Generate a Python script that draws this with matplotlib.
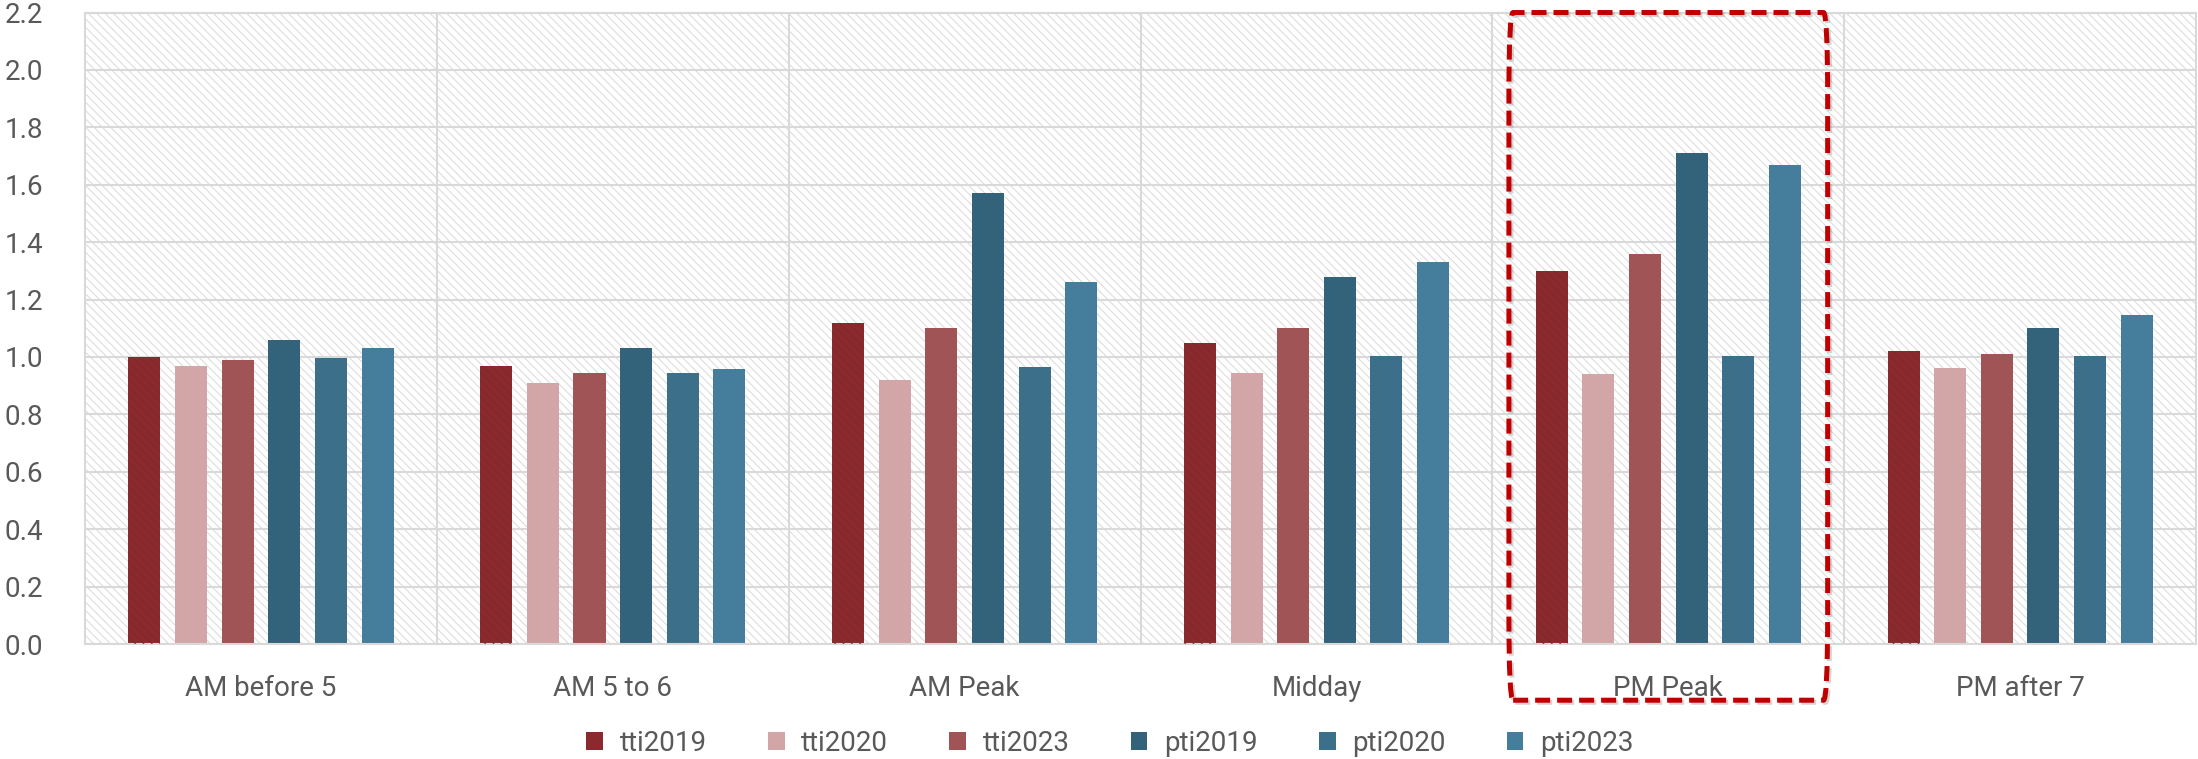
import numpy as np
import matplotlib
matplotlib.use('Agg')
import matplotlib.pyplot as plt
import matplotlib.patheffects as pe
from matplotlib.patches import Rectangle, FancyBboxPatch, Patch
from matplotlib.transforms import blended_transform_factory

# data
categories = ['AM before 5', 'AM 5 to 6', 'AM Peak', 'Midday', 'PM Peak', 'PM after 7']
series_names = ['tti2019', 'tti2020', 'tti2023', 'pti2019', 'pti2020', 'pti2023']
tti2019 = [1.00, 0.97, 1.12, 1.05, 1.30, 1.02]
tti2020 = [0.97, 0.91, 0.92, 0.945, 0.94, 0.96]
tti2023 = [0.99, 0.945, 1.10, 1.10, 1.36, 1.01]
pti2019 = [1.06, 1.03, 1.57, 1.28, 1.71, 1.10]
pti2020 = [0.995, 0.943, 0.965, 1.003, 1.003, 1.003]
pti2023 = [1.03, 0.957, 1.26, 1.33, 1.67, 1.145]
highlight = 'PM Peak'

colors = ['#8b2a2e', '#d2a5a6', '#a05455', '#33637b', '#3b6f8a', '#457e9c']
series = [tti2019, tti2020, tti2023, pti2019, pti2020, pti2023]

plt.rcParams['font.family'] = ['Roboto', 'DejaVu Sans']
plt.rcParams['hatch.linewidth'] = 0.7
text_color = '#595959'
grid_color = '#d9d9d9'

fig = plt.figure(figsize=(21.98, 7.59), dpi=100)
ax = fig.add_axes([0.0387, 0.1515, 0.9604, 0.832])

# hatched background
ax.add_patch(Rectangle((0, 0), 1, 1, transform=ax.transAxes, facecolor='white',
                       edgecolor='#d9d9d9', hatch='\\\\\\\\', lw=0, zorder=0))

x = np.arange(len(categories))
step = 0.1325
width = 0.091
for i, (vals, c) in enumerate(zip(series, colors)):
    pos = x + (i - 2.5) * step
    ax.bar(pos, vals, width, color=c, zorder=2, label=series_names[i])
    if i == 0:
        # faint texture on the first series
        ax.bar(pos, vals, width, facecolor='none', edgecolor='#832729',
               hatch='\\\\\\\\', lw=0, zorder=3)

ax.set_xlim(-0.5, len(categories) - 0.5)
ax.set_ylim(0, 2.2)
ax.set_yticks(np.arange(0, 2.21, 0.2))
ax.set_yticklabels([f'{v:.1f}' for v in np.arange(0, 2.21, 0.2)])
ax.set_xticks(x)
ax.set_xticklabels(categories)
ax.set_xticks(np.arange(0.5, len(categories) - 0.5, 1), minor=True)
ax.tick_params(axis='both', which='both', length=0, labelsize=20, colors=text_color)
ax.tick_params(axis='y', pad=30)
ax.tick_params(axis='x', pad=22)
ax.grid(axis='y', color=grid_color, lw=1.5)
ax.grid(axis='x', which='minor', color=grid_color, lw=1.5)
ax.set_axisbelow(True)
for s in ax.spines.values():
    s.set_color(grid_color)
    s.set_linewidth(1.5)

# dashed highlight box around PM Peak
k = categories.index(highlight)
trans = blended_transform_factory(ax.transData, ax.transAxes)
box = FancyBboxPatch((k - 0.453, -0.089), 0.906, 1.089,
                     boxstyle='round,pad=0,rounding_size=0.012',
                     transform=trans, facecolor='none', edgecolor='#c00000',
                     lw=3.6, linestyle=(0, (3.0, 1.4)), clip_on=False, zorder=5,
                     mutation_aspect=1 / 0.09)
box.set_path_effects([pe.SimpleLineShadow(offset=(1.5, -1.5), shadow_color='#888888', alpha=0.35),
                      pe.Normal()])
ax.add_patch(box)

handles = [Patch(facecolor=c, edgecolor='none') for c in colors]
fig.legend(handles, series_names, loc='center', bbox_to_anchor=(0.505, 0.021),
           ncol=6, frameon=False, fontsize=20, labelcolor=text_color,
           handlelength=0.6, handleheight=0.6, handletextpad=0.6, columnspacing=2.2)

fig.savefig('out.png', dpi=100)
